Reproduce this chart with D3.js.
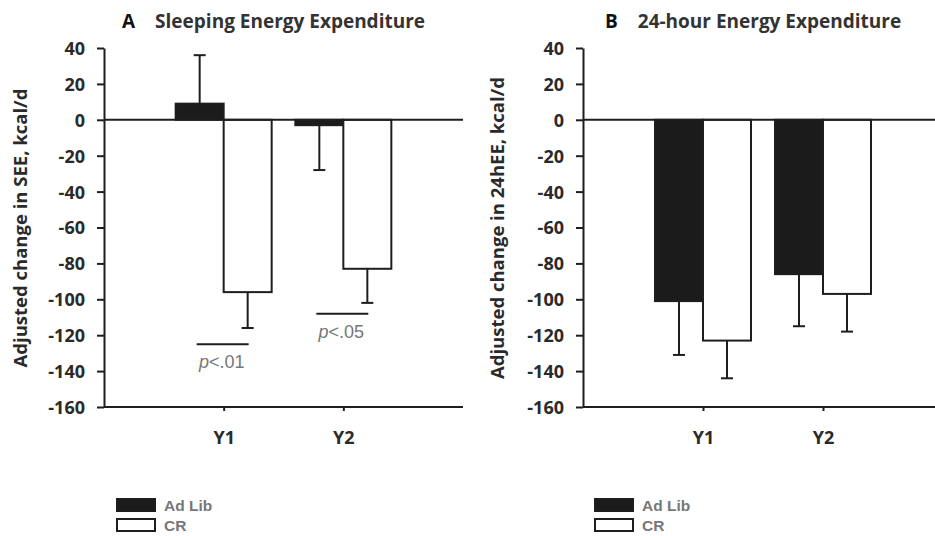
<!DOCTYPE html>
<html>
<head>
<meta charset="utf-8">
<script src="https://cdn.jsdelivr.net/npm/d3@7"></script>
<style>
  body{margin:0;background:#fff;}
  svg{display:block;}
</style>
</head>
<body>
<svg id="chart" width="935" height="536"></svg>
<script>
// data
var categories=['Y1','Y2'];
var groups=['Ad Lib','CR'];
var yTicks=[40,20,0,-20,-40,-60,-80,-100,-120,-140,-160];

var seeAdLib=[9,-3];
var seeAdLibErr=[27,25];
var seeCR=[-96,-83];
var seeCRErr=[20,19];
var seePLines=[-125,-108];
var pLabels=['p<.01','p<.05'];

var eeAdLib=[-101,-86];
var eeAdLibErr=[30,29];
var eeCR=[-123,-97];
var eeCRErr=[21,21];

var svg=d3.select('#chart');
var family='Open Sans';
var ink='#1e1e1e';

function drawPanel(opt){
    var x0=opt.x0, x1=opt.x1;
    var g=svg.append('g');
    var y=d3.scaleLinear().domain([-160,40]).range([407,48]);
    var x=d3.scalePoint().domain(categories).range([x0,x1]).padding(1);
    var sub=d3.scaleBand().domain(groups).range([-48,48]);

    // one row per bar
    var rows=[];
    categories.forEach(function(c,i){
        rows.push({cat:c,grp:'Ad Lib',v:opt.adlib[i],e:opt.adlibErr[i]});
        rows.push({cat:c,grp:'CR',v:opt.cr[i],e:opt.crErr[i]});
    });
    g.selectAll('rect.bar').data(rows).enter().append('rect')
        .attr('class','bar')
        .attr('x',function(d){return x(d.cat)+sub(d.grp);})
        .attr('width',sub.bandwidth())
        .attr('y',function(d){return y(Math.max(0,d.v));})
        .attr('height',function(d){return Math.abs(y(d.v)-y(0));})
        .attr('fill',function(d){return d.grp=='Ad Lib'?'#1b1b1b':'#fff';})
        .attr('stroke',ink)
        .attr('stroke-width',2);

    // error bars (one sided, away from zero)
    var mid=function(d){return x(d.cat)+sub(d.grp)+sub.bandwidth()/2;};
    var tip=function(d){return y(d.v>=0?d.v+d.e:d.v-d.e);};
    var eb=g.selectAll('g.err').data(rows).enter().append('g').attr('class','err');
    eb.append('line')
        .attr('x1',mid).attr('x2',mid)
        .attr('y1',function(d){return y(d.v);})
        .attr('y2',tip)
        .attr('stroke',ink).attr('stroke-width',2);
    eb.append('line')
        .attr('x1',function(d){return mid(d)-6;})
        .attr('x2',function(d){return mid(d)+6;})
        .attr('y1',tip).attr('y2',tip)
        .attr('stroke',ink).attr('stroke-width',2);

    // zero line
    g.append('line')
        .attr('x1',x0).attr('x2',x1)
        .attr('y1',y(0)).attr('y2',y(0))
        .attr('stroke',ink).attr('stroke-width',2);

    // axes
    var ya=g.append('g')
        .attr('transform','translate('+x0+',0)')
        .call(d3.axisLeft(y).tickValues(yTicks).tickFormat(function(d){return String(d);})
            .tickSize(7).tickPadding(12).tickSizeOuter(0));
    var xa=g.append('g')
        .attr('transform','translate(0,'+y(-160)+')')
        .call(d3.axisBottom(x).tickSize(4).tickPadding(20).tickSizeOuter(0));
    xa.select('.domain').attr('d','M'+x0+',0H'+x1);
    [ya,xa].forEach(function(a){
        a.select('.domain').attr('stroke',ink).attr('stroke-width',2);
        a.selectAll('.tick line').attr('stroke',ink).attr('stroke-width',2);
        a.selectAll('.tick text')
            .attr('font-family',family)
            .attr('font-weight','bold')
            .attr('font-size',18)
            .attr('fill','#2a2a2a');
    });
    ya.selectAll('.tick text').attr('dy','0.36em');

    // y label
    g.append('text')
        .attr('transform','translate('+opt.labelX+','+228+') rotate(-90)')
        .attr('text-anchor','middle')
        .attr('font-family',family)
        .attr('font-weight','bold')
        .attr('font-size',18.5)
        .attr('fill','#2a2a2a')
        .text(opt.yLabel);

    // title
    var t=g.append('text')
        .attr('x',opt.titleX).attr('y',28)
        .attr('font-family',family)
        .attr('font-size',19)
        .attr('fill','#333');
    t.append('tspan').attr('font-weight','bold').attr('fill','#111').text(opt.letter);
    t.append('tspan').attr('dx',20).attr('font-weight','bold').text(opt.title);

    // significance marks
    if(opt.pLines){
        categories.forEach(function(c,i){
            var cx=x(c)+sub('Ad Lib')+sub.bandwidth()/2;
            g.append('line')
                .attr('x1',cx-3).attr('x2',cx+49)
                .attr('y1',y(opt.pLines[i])).attr('y2',y(opt.pLines[i]))
                .attr('stroke',ink).attr('stroke-width',2);
            var pt=g.append('text')
                .attr('x',cx+22).attr('y',y(opt.pLines[i])+24)
                .attr('text-anchor','middle')
                .attr('font-family','Liberation Sans')
                .attr('font-size',18)
                .attr('fill','#777');
            pt.append('tspan').attr('font-style','italic').text(pLabels[i].slice(0,1));
            pt.append('tspan').text(pLabels[i].slice(1));
        });
    }

    // legend
    var lg=g.append('g').attr('transform','translate('+opt.legendX+',499)');
    groups.forEach(function(gr,i){
        lg.append('rect')
            .attr('x',0).attr('y',i*20)
            .attr('width',38).attr('height',12)
            .attr('fill',gr=='Ad Lib'?'#1b1b1b':'#fff')
            .attr('stroke',ink).attr('stroke-width',2);
        lg.append('text')
            .attr('x',47).attr('y',i*20+12)
            .attr('font-family','Liberation Sans')
            .attr('font-weight','bold')
            .attr('font-size',15.5)
            .attr('fill','#777')
            .text(gr);
    });
}

drawPanel({
    x0:104,x1:463,
    adlib:seeAdLib,adlibErr:seeAdLibErr,cr:seeCR,crErr:seeCRErr,
    pLines:seePLines,
    yLabel:'Adjusted change in SEE, kcal/d',labelX:27,
    letter:'A',title:'Sleeping Energy Expenditure',titleX:122,
    legendX:117
});
drawPanel({
    x0:583,x1:943,
    adlib:eeAdLib,adlibErr:eeAdLibErr,cr:eeCR,crErr:eeCRErr,
    pLines:null,
    yLabel:'Adjusted change in 24hEE, kcal/d',labelX:504,
    letter:'B',title:'24-hour Energy Expenditure',titleX:605,
    legendX:595
});
</script>
</body>
</html>
